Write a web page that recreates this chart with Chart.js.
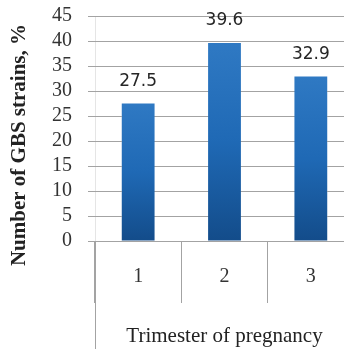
<!DOCTYPE html>
<html>
<head>
<meta charset="utf-8">
<script src="https://cdn.jsdelivr.net/npm/chart.js@4.4.1/dist/chart.umd.min.js"></script>
<style>
  html, body { margin: 0; padding: 0; background: #ffffff; overflow: hidden; }
  #wrap { position: relative; width: 360px; height: 349px; }
</style>
</head>
<body>
<div id="wrap"><canvas id="chart"></canvas></div>
<script>
// Share of GBS strains by trimester of pregnancy
const trimesters = ['1', '2', '3'];
const strainShare = [27.5, 39.6, 32.9];
const yMin = 0;
const yMax = 45;
const yStep = 5;
const yTitle = 'Number of GBS strains, %';
const xTitle = 'Trimester of pregnancy';

const GRID = '#a3a3a3';
const SERIF = '"Liberation Serif", "Times New Roman", serif';

// Vertical blue shading for each bar, from its own top down to the baseline
function barGradient(ctx) {
  const chart = ctx.chart;
  const y = chart.scales.y;
  if (!y || ctx.raw == null) return '#1f69b5';
  const top = y.getPixelForValue(ctx.raw);
  const base = y.getPixelForValue(0);
  if (!isFinite(top) || !isFinite(base) || top === base) return '#1f69b5';
  const g = chart.ctx.createLinearGradient(0, top, 0, base);
  g.addColorStop(0, '#2f79c3');
  g.addColorStop(0.5, '#1f69b5');
  g.addColorStop(1, '#134c8a');
  return g;
}

// Horizontal rules at every value tick, broken where a bar covers them
const valueRules = {
  id: 'valueRules',
  afterDatasetsDraw(chart) {
    const { ctx, chartArea, scales } = chart;
    const y = scales.y;
    const bars = chart.getDatasetMeta(0).data.map(b => b.getProps(['x', 'y', 'base', 'width'], true));
    ctx.save();
    ctx.fillStyle = GRID;
    y.ticks.forEach(t => {
      const py = Math.round(y.getPixelForValue(t.value));
      let segs = [[chartArea.left, chartArea.right]];
      bars.forEach(b => {
        if (py > Math.min(b.y, b.base) && py < Math.max(b.y, b.base)) {
          const l = b.x - b.width / 2, r = b.x + b.width / 2;
          const next = [];
          segs.forEach(([a, c]) => {
            if (r <= a || l >= c) { next.push([a, c]); return; }
            if (l > a) next.push([a, l]);
            if (r < c) next.push([r, c]);
          });
          segs = next;
        }
      });
      segs.forEach(([a, c]) => ctx.fillRect(Math.round(a), py, Math.round(c) - Math.round(a), 1));
    });
    ctx.restore();
  }
};

// Value printed above every bar
const valueLabels = {
  id: 'valueLabels',
  afterDatasetsDraw(chart) {
    const { ctx } = chart;
    const meta = chart.getDatasetMeta(0);
    ctx.save();
    ctx.font = '17px "DejaVu Sans", sans-serif';
    ctx.fillStyle = '#262626';
    ctx.textAlign = 'center';
    ctx.textBaseline = 'middle';
    meta.data.forEach((bar, i) => {
      ctx.fillText(String(strainShare[i]), bar.x, bar.y - 22);
    });
    ctx.restore();
  }
};

// Left boundary of the category band runs down past the title row
const bandEdge = {
  id: 'bandEdge',
  afterDraw(chart) {
    const { ctx, chartArea } = chart;
    const x = Math.round(chartArea.left) + 0.5;
    ctx.save();
    ctx.strokeStyle = GRID;
    ctx.lineWidth = 1;
    ctx.beginPath();
    ctx.moveTo(x, chartArea.bottom);
    ctx.lineTo(x, chart.height);
    ctx.stroke();
    ctx.restore();
  }
};

// Rotated value-axis title beside the ticks
const sideTitle = {
  id: 'sideTitle',
  afterDraw(chart) {
    const { ctx } = chart;
    ctx.save();
    ctx.translate(20, 145);
    ctx.rotate(-Math.PI / 2);
    ctx.font = 'bold 21px ' + SERIF;
    ctx.fillStyle = '#222222';
    ctx.textAlign = 'center';
    ctx.textBaseline = 'middle';
    ctx.fillText(yTitle, 0, 0);
    ctx.restore();
  }
};

new Chart(document.getElementById('chart'), {
  type: 'bar',
  data: {
    labels: trimesters,
    datasets: [{
      data: strainShare,
      backgroundColor: barGradient,
      borderWidth: 0,
      categoryPercentage: 1,
      barPercentage: 0.38
    }]
  },
  options: {
    responsive: true,
    maintainAspectRatio: false,
    animation: false,
    layout: { padding: { top: 16, right: 6, left: 0, bottom: 0 } },
    plugins: {
      legend: { display: false },
      tooltip: { enabled: false }
    },
    scales: {
      x: {
        offset: true,
        grid: {
          offset: true,
          drawOnChartArea: false,
          tickLength: 62,
          color: GRID
        },
        ticks: {
          padding: -38,
          color: '#333333',
          font: { family: SERIF, size: 20 }
        },
        title: {
          display: true,
          text: xTitle,
          color: '#222222',
          font: { family: SERIF, size: 21 },
          padding: 0
        },
        afterFit(scale) { scale.height = 108; }
      },
      y: {
        min: yMin,
        max: yMax,
        grid: { color: GRID, tickLength: 7 },
        ticks: {
          stepSize: yStep,
          autoSkip: false,
          padding: 16,
          color: '#333333',
          font: { family: SERIF, size: 20 }
        },
        afterFit(scale) {
          scale.width = 95;
          scale.paddingTop = 0;
          scale.paddingBottom = 0;
        }
      }
    }
  },
  plugins: [valueRules, valueLabels, bandEdge, sideTitle]
});
</script>
</body>
</html>
